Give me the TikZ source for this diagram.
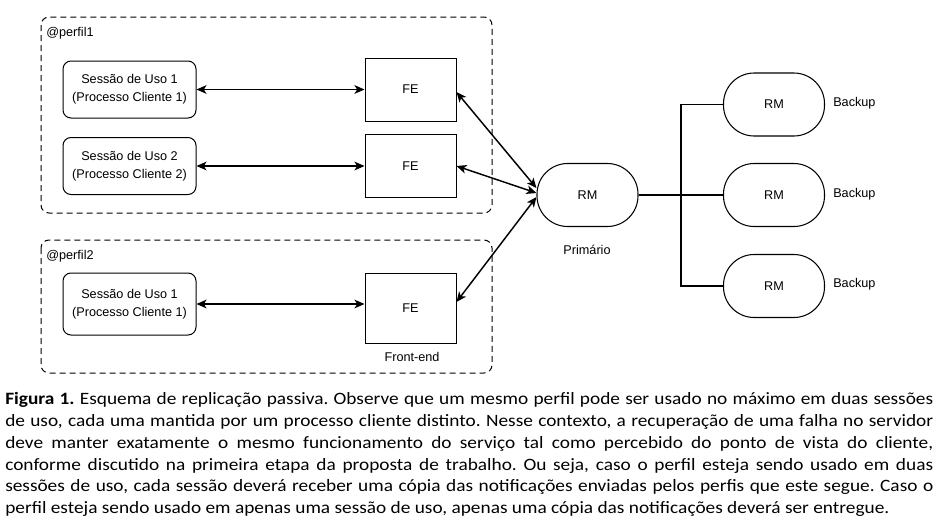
\documentclass[tikz,border=0pt]{standalone}
\usepackage{fontspec}
\setmainfont{Liberation Sans}
\newfontfamily\legenda[FakeStretch=1.115]{Carlito}
\usetikzlibrary{arrows.meta}

\begin{document}
\frenchspacing
\begin{tikzpicture}[
    x=0.75pt,y=-0.75pt,
    font=\fontsize{9.5}{13.5}\selectfont,
    grupo/.style={draw,dash pattern=on 4.5pt off 3pt,rounded corners=6pt,
        line width=.75pt},
    sessao/.style={draw,rounded corners=6pt,line width=.75pt,align=center,
        minimum width=99.75pt,minimum height=42.75pt,inner sep=0pt},
    fe/.style={draw,line width=.75pt,minimum width=68.25pt,
        minimum height=47.25pt,inner sep=0pt},
    rm/.style={draw,rounded corners=23pt,line width=.8pt,
        minimum width=75.75pt,minimum height=47.25pt,inner sep=0pt},
    ponta/.tip={Stealth[length=7.5pt,width=6.5pt,inset=2pt]},
    seta/.style={ponta-ponta,line width=1.1pt},
    ligacao/.style={line width=1.1pt},
    rotulo/.style={inner sep=0pt},
    ]
    \useasboundingbox (0,0) rectangle (938,529);
    % Perfis (grupos tracejados)
    \draw[grupo] (41,17) rectangle (492,213);
    \draw[grupo] (41,240) rectangle (492,373);
    \node[rotulo,anchor=base west] (perfil1) at (46,36) {@perfil1};
    \node[rotulo,anchor=base west] (perfil2) at (46,259) {@perfil2};
    % Sessoes de uso
    \node[sessao] (s1) at (129.5,89.5) {Sessão de Uso 1\\(Processo Cliente 1)};
    \node[sessao] (s2) at (129.5,166) {Sessão de Uso 2\\(Processo Cliente 2)};
    \node[sessao,minimum height=46.5pt] (s3) at (129.5,304)
         {Sessão de Uso 1\\(Processo Cliente 1)};
    % Front-ends
    \node[fe] (fe1) at (410.5,89.5) {FE};
    \node[fe] (fe2) at (410.5,166) {FE};
    \node[fe,minimum height=52.5pt] (fe3) at (410.5,308.5) {FE};
    \node[rotulo] (frontend) at (412,357) {Front-end};
    % Gerenciadores de replica
    \node[rm] (rmp) at (587.5,195) {RM};
    \node[rotulo] (primario) at (587,250) {Primário};
    \node[rm] (rmb1) at (774,104.5) {RM};
    \node[rm] (rmb2) at (774,195) {RM};
    \node[rm] (rmb3) at (774,286) {RM};
    \node[rotulo,anchor=west] (bk1) at (833,103) {Backup};
    \node[rotulo,anchor=west] (bk2) at (833,194) {Backup};
    \node[rotulo,anchor=west] (bk3) at (833,284) {Backup};
    % Sessao <-> FE
    \draw[seta] (s1) -- (fe1);
    \draw[seta] (s2) -- (fe2);
    \draw[seta] (s3.east) -- (s3.east -| fe3.west);
    % FE <-> primario
    \draw[seta] ([yshift=-1.9pt]fe1.east) -- ([yshift=5.2pt]rmp.west);
    \draw[seta] (fe2.east) -- ([yshift=1.5pt]rmp.west);
    \draw[seta] ([yshift=4.9pt]fe3.east) -- ([yshift=-1.5pt]rmp.west);
    % Primario -- backups
    \coordinate (barra) at (681,195);
    \draw[ligacao] (rmp.east) -- (rmb2.west);
    \draw[ligacao] (rmb1.west) -| (barra) |- (rmb3.west);
    % Legenda
    \node[anchor=north west,inner sep=0pt,align=left,
          font=\legenda\fontsize{13}{16.4}\selectfont] (legenda) at (5,392)
    {\makebox[696pt][s]{\textbf{Figura 1.} Esquema de replicação passiva. Observe que um mesmo perfil pode ser usado no máximo em duas sessões}\\
     \makebox[696pt][s]{de uso, cada uma mantida por um processo cliente distinto. Nesse contexto, a recuperação de uma falha no servidor}\\
     \makebox[696pt][s]{deve manter exatamente o mesmo funcionamento do serviço tal como percebido do ponto de vista do cliente,}\\
     \makebox[696pt][s]{conforme discutido na primeira etapa da proposta de trabalho. Ou seja, caso o perfil esteja sendo usado em duas}\\
     \makebox[696pt][s]{sessões de uso, cada sessão deverá receber uma cópia das notificações enviadas pelos perfis que este segue. Caso o}\\
     perfil esteja sendo usado em apenas uma sessão de uso, apenas uma cópia das notificações deverá ser entregue.};
\end{tikzpicture}
\end{document}
